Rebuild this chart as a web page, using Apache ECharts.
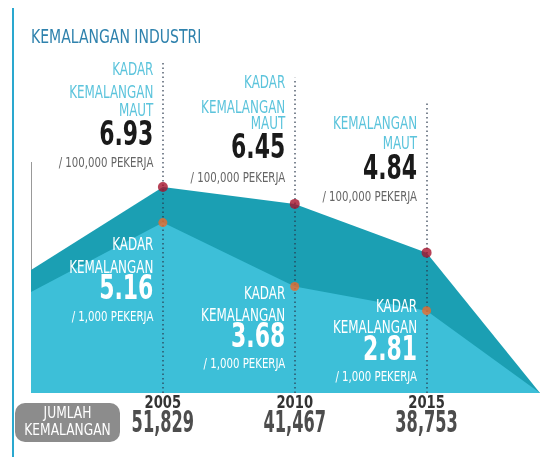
<!DOCTYPE html>
<html>
<head>
<meta charset="utf-8">
<script src="https://cdn.jsdelivr.net/npm/echarts@6/dist/echarts.min.js"></script>
<style>
  html, body { margin: 0; padding: 0; background: #fff; }
  #main { width: 544px; height: 457px; }
</style>
</head>
<body>
<div id="main"></div>
<script>
// data
const years = [2005, 2010, 2015]
const fatalRate = ['6.93', '6.45', '4.84']        // per 100,000 workers
const accidentRate = ['5.16', '3.68', '2.81']     // per 1,000 workers
const accidentCount = ['51,829', '41,467', '38,753']
// the shape of the two areas, as drawn (x = year)
const areaX = [2000, 2005, 2010, 2015, 2019.3]
const fatalLevel = [4.14, 6.93, 6.36, 4.72, 0]
const accidentLevel = [3.40, 5.73, 3.58, 2.77, 0]
// where the dotted guide lines stop at the top
const guideTop = [11.2, 10.6, 9.75]

const FONT = "'Liberation Sans Narrow', 'DejaVu Sans Condensed', sans-serif"

const chart = echarts.init(document.getElementById('main'))

const pairs = (xs, ys) => xs.map((x, i) => [x, ys[i]])

chart.setOption({
  animation: false,
  grid: { left: 31, right: 4, top: 57, bottom: 64 },
  xAxis: { type: 'value', min: 2000, max: 2019.3, show: false },
  yAxis: { type: 'value', min: 0, max: 11.3, show: false },
  series: [
    {
      type: 'line',
      data: pairs(areaX, fatalLevel),
      symbol: 'none',
      lineStyle: { width: 0 },
      areaStyle: { color: '#1b9fb3', opacity: 1 },
      z: 1
    },
    {
      type: 'line',
      data: pairs(areaX, accidentLevel),
      symbol: 'none',
      lineStyle: { width: 0 },
      areaStyle: { color: '#3dbfd8', opacity: 1 },
      z: 2,
      markLine: {
        silent: true,
        symbol: ['none', 'none'],
        label: { show: false },
        lineStyle: { type: [1.5, 3], color: 'rgba(40,55,75,0.8)', width: 1.5 },
        data: years.map((y, i) => [{ coord: [y, 0] }, { coord: [y, guideTop[i]] }])
      }
    },
    {
      type: 'scatter',
      data: pairs(years, fatalLevel.slice(1, 4)),
      symbolSize: 10,
      itemStyle: { color: '#a5132d' },
      z: 5
    },
    {
      type: 'scatter',
      data: pairs(years, accidentLevel.slice(1, 4)),
      symbolSize: 9,
      itemStyle: { color: '#ec6a2c' },
      z: 5
    }
  ]
})

// text layout
const txt = (x, y, text, size, fill, opts = {}) => ({
  type: 'text',
  x, y,
  scaleX: opts.sx || 1,
  z: 10,
  style: {
    text,
    x: 0, y: 0,
    font: (opts.bold ? 'bold ' : '') + size + 'px ' + FONT,
    fill,
    align: opts.align || 'right',
    verticalAlign: 'middle'
  }
})

const cyan = '#5cc4dc'
const grey = '#666'
// vertical centres of the text lines for each block
const fatalRows = [
  { lines: [71, 93.5, 111.5], num: 136, unit: 163, words: ['KADAR', 'KEMALANGAN', 'MAUT'] },
  { lines: [84, 109, 125], num: 149.5, unit: 178, words: ['KADAR', 'KEMALANGAN', 'MAUT'] },
  { lines: [125, 145], num: 170.5, unit: 197, words: ['KEMALANGAN', 'MAUT'] }
]
const accRows = [
  { lines: [245.5, 268.5], num: 290, unit: 317 },
  { lines: [294.5, 316.5], num: 338.5, unit: 364 },
  { lines: [307.5, 329], num: 351, unit: 377.5 }
]

const g = []
// left blue rule and grey stub
g.push({ type: 'rect', shape: { x: 12, y: 8, width: 2, height: 449 }, style: { fill: '#2aa8cf' } })
g.push({ type: 'line', shape: { x1: 31.5, y1: 162, x2: 31.5, y2: 270 }, style: { stroke: '#999', lineWidth: 1 } })
// title
g.push(txt(31, 38, 'KEMALANGAN INDUSTRI', 19, '#2f82ad', { align: 'left', sx: 0.82 }))

years.forEach((yr, i) => {
  const px = chart.convertToPixel({ gridIndex: 0 }, [yr, 0])[0]
  const r = px - 9.5
  const f = fatalRows[i]
  f.words.forEach((w, k) => g.push(txt(r, f.lines[k], w, 17, cyan, { sx: 0.78 })))
  g.push(txt(r, f.num, fatalRate[i], 33, '#1a1a1a', { bold: true, sx: 0.74 }))
  g.push(txt(r, f.unit, '/ 100,000 PEKERJA', 14, grey, { sx: 0.81 }))

  const a = accRows[i]
  g.push(txt(r, a.lines[0], 'KADAR', 17, '#fff', { sx: 0.78 }))
  g.push(txt(r, a.lines[1], 'KEMALANGAN', 17, '#fff', { sx: 0.78 }))
  g.push(txt(r, a.num, accidentRate[i], 33, '#fff', { bold: true, sx: 0.74 }))
  g.push(txt(r, a.unit, '/ 1,000 PEKERJA', 14, '#fff', { sx: 0.81 }))

  g.push(txt(px, 404, String(yr), 17, '#333', { bold: true, align: 'center', sx: 0.86 }))
  g.push(txt(px, 424, accidentCount[i], 30, '#4d4d4d', { bold: true, align: 'center', sx: 0.6 }))
})

// grey badge
g.push({ type: 'rect', shape: { x: 15, y: 403, width: 105, height: 39, r: 10 }, style: { fill: '#8c8c8c' }, z: 10 })
g.push(txt(67.5, 414, 'JUMLAH', 16, '#fff', { align: 'center', sx: 0.85 }))
g.push(txt(67.5, 431, 'KEMALANGAN', 16, '#fff', { align: 'center', sx: 0.85 }))

chart.setOption({ graphic: g })
</script>
</body>
</html>
